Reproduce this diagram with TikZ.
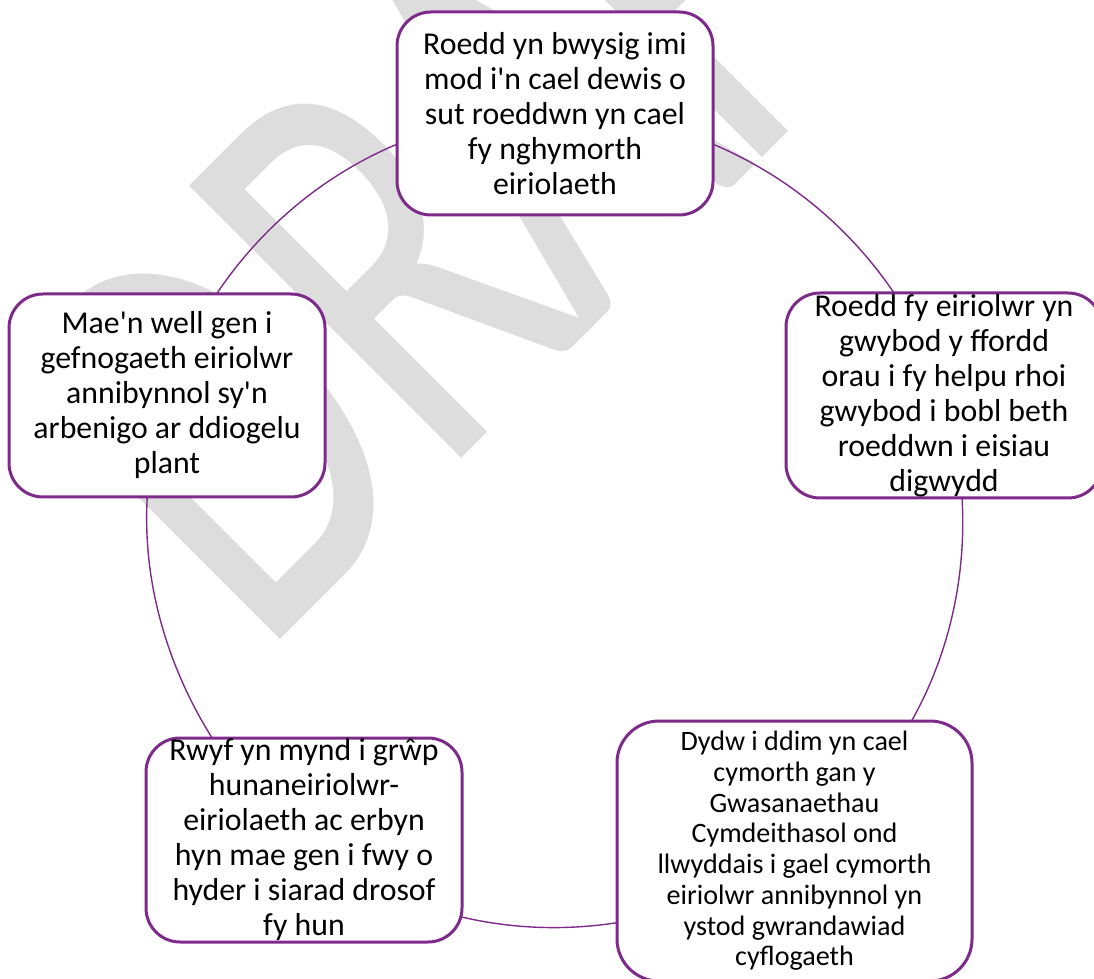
\documentclass[tikz,border=0pt]{standalone}
\usepackage{fontspec}
\setmainfont{Carlito}
\definecolor{boxpurple}{RGB}{126,42,138}
\definecolor{wmgray}{RGB}{221,221,221}
\newcommand{\ap}{\textquotesingle}
\begin{document}
\begin{tikzpicture}[x=1pt,y=1pt,
  stepbox/.style={draw=boxpurple, line width=3pt, fill=white, rounded corners=34pt,
    rectangle, inner sep=0pt, outer sep=0pt, align=center, minimum width=316pt,
    text=black, font=\fontsize{31.8}{35}\selectfont},
  link/.style={draw=boxpurple, line width=1.4pt, looseness=0.87},
  watermark/.style={rotate=45, anchor=base west, inner sep=0pt, text=wmgray,
    font=\fontsize{600}{600}\selectfont}]
\useasboundingbox (0,0) rectangle (1094,978);
\clip (0,0) rectangle (1094,978);
% watermark
\node (wm) [watermark] at (260,318) {\scalebox{0.693}[1]{DR\kern-29pt A\kern-29pt FT}};
% boxes
\node (top) [stepbox, minimum height=203pt] at (555,864.5)
  {Roedd yn bwysig imi\\mod i\ap n cael dewis o\\sut roeddwn yn cael\\fy nghymorth\\eiriolaeth};
\node (right) [stepbox, minimum height=205pt] at (944,582.5)
  {Roedd fy eiriolwr yn\\gwybod y ffordd\\orau i fy helpu rhoi\\gwybod i bobl beth\\roeddwn i eisiau\\digwydd};
\node (left) [stepbox, minimum height=203pt] at (167,582.5)
  {Mae\ap n well gen i\\gefnogaeth eiriolwr\\annibynnol sy\ap n\\arbenigo ar ddiogelu\\plant};
\node (bl) [stepbox, minimum height=204pt] at (304,138)
  {Rwyf yn mynd i grŵp\\hunaneiriolwr-\\eiriolaeth ac erbyn\\hyn mae gen i fwy o\\hyder i siarad drosof\\fy hun};
\node (br) [stepbox, minimum width=355pt, minimum height=260pt, rounded corners=42pt,
  font=\fontsize{28.1}{30.7}\selectfont] at (794.5,127)
  {Dydw i ddim yn cael\\cymorth gan y\\Gwasanaethau\\Cymdeithasol ond\\llwyddais i gael cymorth\\eiriolwr annibynnol yn\\ystod gwrandawiad\\cyflogaeth};
% connecting arcs
\draw[link] (top.-11.27) to[out=-22.8, in=124.0] (right.116.45);
\draw[link] (right.-80.04) to[out=-86.77, in=60.64] (br.48.23);
\draw[link, looseness=0.86] (br.202.35) to[out=-171.25, in=-13.18] (bl.-26.27);
\draw[link] (bl.132.8) to[out=122.13, in=-93.37] (left.259.23);
\draw[link] (left.64.23) to[out=56.19, in=202.8] (top.191.27);
\end{tikzpicture}
\end{document}
